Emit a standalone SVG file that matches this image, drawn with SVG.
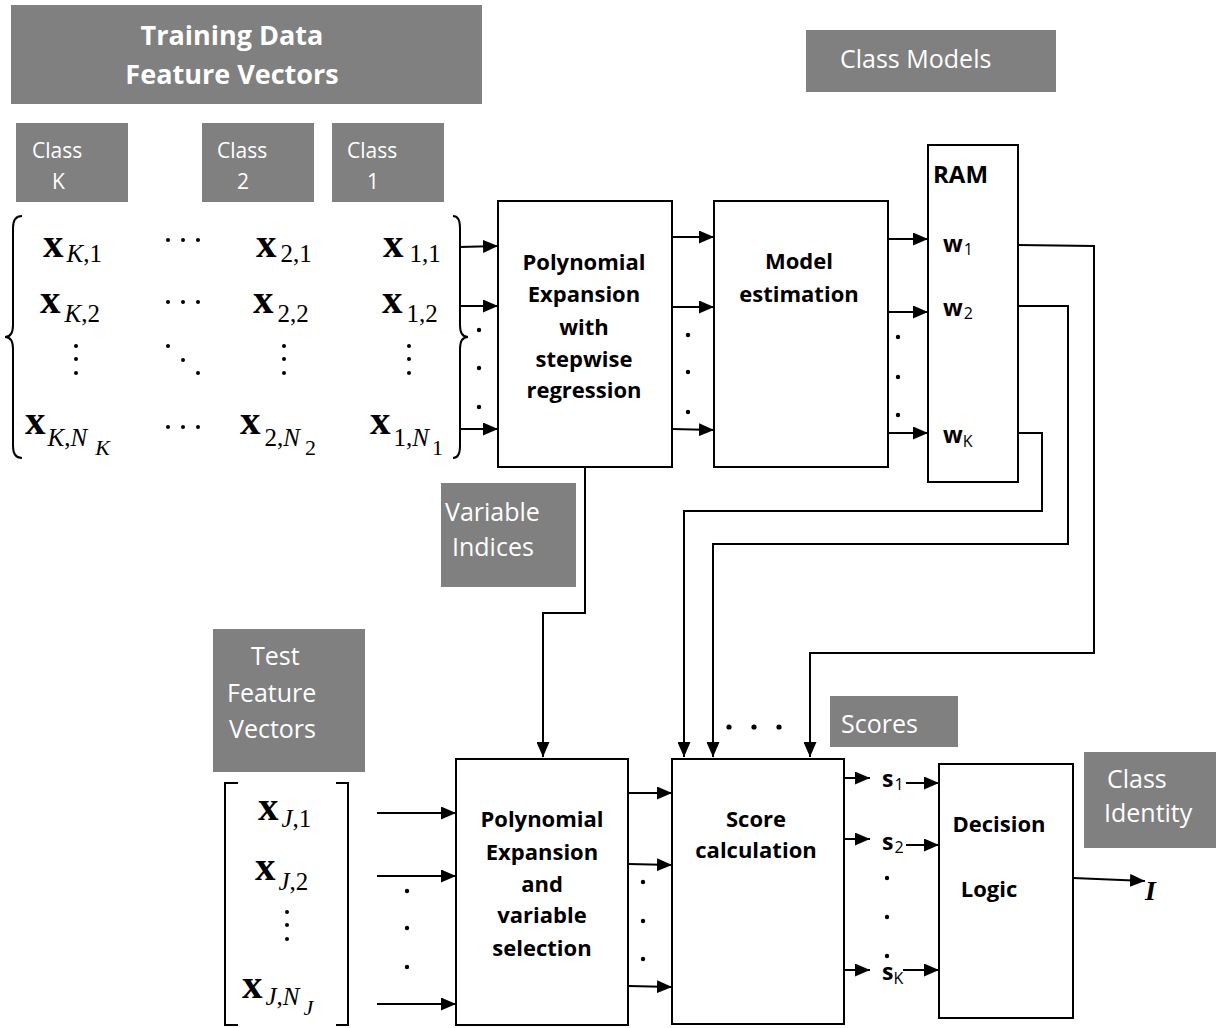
<svg xmlns="http://www.w3.org/2000/svg" width="1216" height="1028" viewBox="0 0 1216 1028">
<defs>
<style>
.g{fill:#808080}
.lt{font-family:"Open Sans","Noto Sans",sans-serif;fill:#fff;font-size:25px}
.lk{font-size:21px}
.tt{font-family:"Open Sans","Noto Sans",sans-serif;fill:#fff;font-size:27px;font-weight:bold;text-anchor:middle}
.bt{font-family:"Open Sans","Noto Sans",sans-serif;font-weight:bold;font-size:22px;fill:#000;text-anchor:middle}
.box{fill:#fff;stroke:#000;stroke-width:2}
.w{stroke:#000;stroke-width:2;fill:none}
.wa{stroke:#000;stroke-width:2;fill:none;marker-end:url(#ah)}
.m{font-family:"Liberation Serif","Times New Roman",serif;fill:#000}
.mb{font-weight:bold;font-size:41px}
.mi{font-size:25px}
.ms{font-size:22px}
.it{font-style:italic}
.sv{font-family:"Open Sans","Noto Sans",sans-serif;fill:#000;font-weight:bold;font-size:23px}
.ss{font-weight:normal;font-size:16px}
.d{fill:#000}
</style>
<marker id="ah" viewBox="0 0 15 13" refX="15" refY="6.5" markerWidth="15" markerHeight="13" markerUnits="userSpaceOnUse" orient="auto">
<path d="M0,0 L15,6.5 L0,13 z" fill="#000"/>
</marker>
</defs>
<rect width="1216" height="1028" fill="#fff"/>

<!-- gray labels -->
<g id="training-label">
<rect class="g" x="11" y="5" width="471" height="99"/>
<text class="tt" x="232" y="45">Training Data</text>
<text class="tt" x="232" y="84">Feature Vectors</text>
</g>
<g id="class-k-label">
<rect class="g" x="16" y="123" width="112" height="79"/>
<text class="lt lk" x="32" y="158">Class</text>
<text class="lt lk" x="52" y="189">K</text>
</g>
<g id="class-2-label">
<rect class="g" x="202" y="123" width="112" height="79"/>
<text class="lt lk" x="217" y="158">Class</text>
<text class="lt lk" x="237" y="189">2</text>
</g>
<g id="class-1-label">
<rect class="g" x="332" y="123" width="112" height="79"/>
<text class="lt lk" x="347" y="158">Class</text>
<text class="lt lk" x="367" y="189">1</text>
</g>
<g id="class-models-label">
<rect class="g" x="806" y="30" width="250" height="62"/>
<text class="lt" x="840" y="68">Class Models</text>
</g>
<g id="variable-indices-label">
<rect class="g" x="441" y="483" width="135" height="104"/>
<text class="lt" x="445" y="521">Variable</text>
<text class="lt" x="452" y="556">Indices</text>
</g>
<g id="test-label">
<rect class="g" x="213" y="629" width="152" height="143"/>
<text class="lt" x="251" y="665">Test</text>
<text class="lt" x="227" y="702">Feature</text>
<text class="lt" x="229" y="738">Vectors</text>
</g>
<g id="scores-label">
<rect class="g" x="830" y="696" width="128" height="51"/>
<text class="lt" x="841" y="733">Scores</text>
</g>
<g id="class-identity-label">
<rect class="g" x="1084" y="752" width="132" height="96"/>
<text class="lt" x="1107" y="788">Class</text>
<text class="lt" x="1104" y="822">Identity</text>
</g>

<!-- training matrix -->
<g id="training-matrix">
<path class="w" d="M22,216 Q13,216 13,228 L13,325 Q13,337 5,337 Q13,337 13,349 L13,446 Q13,458 22,458"/>
<path class="w" d="M453,216 Q460,216 460,228 L460,325 Q460,337 468,337 Q460,337 460,349 L460,446 Q460,458 453,458"/>
<text class="m"><tspan class="mb" x="43" y="257">x</tspan><tspan class="mi" dx="3" dy="5"><tspan class="it">K</tspan>,1</tspan></text>
<text class="m"><tspan class="mb" x="256" y="257">x</tspan><tspan class="mi" dx="4" dy="5">2,1</tspan></text>
<text class="m"><tspan class="mb" x="383" y="257">x</tspan><tspan class="mi" dx="6" dy="5">1,1</tspan></text>
<text class="m"><tspan class="mb" x="40" y="313">x</tspan><tspan class="mi" dx="4" dy="9"><tspan class="it">K</tspan>,2</tspan></text>
<text class="m"><tspan class="mb" x="253" y="313">x</tspan><tspan class="mi" dx="4" dy="9">2,2</tspan></text>
<text class="m"><tspan class="mb" x="382" y="313">x</tspan><tspan class="mi" dx="4" dy="9">1,2</tspan></text>
<text class="m"><tspan class="mb" x="25" y="434">x</tspan><tspan class="mi" dx="2" dy="12"><tspan class="it">K</tspan>,<tspan class="it">N</tspan></tspan><tspan class="ms it" dx="8" dy="9">K</tspan></text>
<text class="m"><tspan class="mb" x="240" y="434">x</tspan><tspan class="mi" dx="4" dy="12">2,<tspan class="it">N</tspan></tspan><tspan class="ms" dx="5" dy="9">2</tspan></text>
<text class="m"><tspan class="mb" x="370" y="434">x</tspan><tspan class="mi" dx="3" dy="12">1,<tspan class="it">N</tspan></tspan><tspan class="ms" dx="3" dy="9">1</tspan></text>
<g class="d">
<circle cx="168" cy="240" r="2"/><circle cx="183" cy="240" r="2"/><circle cx="198" cy="240" r="2"/>
<circle cx="168" cy="302" r="2"/><circle cx="183" cy="302" r="2"/><circle cx="198" cy="302" r="2"/>
<circle cx="168" cy="427" r="2"/><circle cx="183" cy="427" r="2"/><circle cx="198" cy="427" r="2"/>
<circle cx="76" cy="346" r="2"/><circle cx="76" cy="359" r="2"/><circle cx="76" cy="373" r="2"/>
<circle cx="168" cy="346" r="2"/><circle cx="183" cy="360" r="2"/><circle cx="198" cy="373" r="2"/>
<circle cx="284" cy="346" r="2"/><circle cx="284" cy="359" r="2"/><circle cx="284" cy="373" r="2"/>
<circle cx="409" cy="346" r="2"/><circle cx="409" cy="359" r="2"/><circle cx="409" cy="373" r="2"/>
</g>
</g>

<!-- test matrix -->
<g id="test-matrix">
<path class="w" d="M238,783 L225,783 L225,1025 L238,1025"/>
<path class="w" d="M336,783 L348,783 L348,1025 L336,1025"/>
<text class="m"><tspan class="mb" x="258" y="820">x</tspan><tspan class="mi" dx="3" dy="7"><tspan class="it">J</tspan>,1</tspan></text>
<text class="m"><tspan class="mb" x="255" y="880">x</tspan><tspan class="mi" dx="3" dy="10"><tspan class="it">J</tspan>,2</tspan></text>
<text class="m"><tspan class="mb" x="242" y="998">x</tspan><tspan class="mi" dx="3" dy="7"><tspan class="it">J</tspan>,<tspan class="it">N</tspan></tspan><tspan class="ms it" dx="4" dy="10">J</tspan></text>
<g class="d"><circle cx="287" cy="912" r="2"/><circle cx="287" cy="925" r="2"/><circle cx="287" cy="939" r="2"/></g>
</g>

<!-- process boxes -->
<g id="poly-train">
<rect class="box" x="498" y="201" width="174" height="266"/>
<text class="bt" x="584" y="270">Polynomial</text>
<text class="bt" x="584" y="302">Expansion</text>
<text class="bt" x="584" y="335">with</text>
<text class="bt" x="584" y="367">stepwise</text>
<text class="bt" x="584" y="398">regression</text>
</g>
<g id="model-estimation">
<rect class="box" x="714" y="201" width="174" height="266"/>
<text class="bt" x="799" y="269">Model</text>
<text class="bt" x="799" y="302">estimation</text>
</g>
<g id="ram">
<rect class="box" x="928" y="145" width="90" height="337"/>
<text class="sv" x="933" y="183" style="font-size:24px">RAM</text>
<text class="sv" x="943" y="252">w<tspan class="ss" dx="1" dy="3">1</tspan></text>
<text class="sv" x="943" y="316">w<tspan class="ss" dx="1" dy="3">2</tspan></text>
<text class="sv" x="943" y="443">w<tspan class="ss" dx="0" dy="4">K</tspan></text>
</g>
<g id="poly-test">
<rect class="box" x="456" y="759" width="172" height="266"/>
<text class="bt" x="542" y="827">Polynomial</text>
<text class="bt" x="542" y="860">Expansion</text>
<text class="bt" x="542" y="892">and</text>
<text class="bt" x="542" y="923">variable</text>
<text class="bt" x="542" y="956">selection</text>
</g>
<g id="score-calculation">
<rect class="box" x="672" y="759" width="172" height="265"/>
<text class="bt" x="756" y="827">Score</text>
<text class="bt" x="756" y="858">calculation</text>
</g>
<g id="decision-logic">
<rect class="box" x="939" y="764" width="134" height="254"/>
<text class="bt" x="999" y="832">Decision</text>
<text class="bt" x="989" y="897">Logic</text>
</g>
<g id="scores">
<text class="sv" x="882" y="787">s<tspan class="ss" dx="1" dy="3">1</tspan></text>
<text class="sv" x="882" y="850">s<tspan class="ss" dx="1" dy="3">2</tspan></text>
<text class="sv" x="882" y="980">s<tspan class="ss" dx="0" dy="4">K</tspan></text>
</g>
<g id="class-identity">
<text class="m" x="1145" y="900" style="font-style:italic;font-weight:bold;font-size:28px">I</text>
</g>

<!-- connectors -->
<g id="connectors">
<path class="wa" d="M460,247 L498,246"/>
<path class="wa" d="M460,306 L498,306"/>
<path class="wa" d="M460,429 L498,429"/>
<path class="wa" d="M672,237 L714,237"/>
<path class="wa" d="M672,307 L714,307"/>
<path class="wa" d="M672,429 L714,430"/>
<path class="wa" d="M888,239 L928,239"/>
<path class="wa" d="M888,312 L928,312"/>
<path class="wa" d="M888,433 L928,433"/>
<path class="wa" d="M585,467 L585,613 L543,613 L543,757"/>
<path class="wa" d="M1018,245 L1094,246 L1094,653 L810,653 L810,757"/>
<path class="wa" d="M1018,306 L1068,306 L1068,544 L713,544 L713,757"/>
<path class="wa" d="M1018,433 L1042,433 L1042,511 L684,511 L684,757"/>
<path class="wa" d="M377,813 L456,813"/>
<path class="wa" d="M377,876 L456,876"/>
<path class="wa" d="M377,1004 L456,1004"/>
<path class="wa" d="M629,793 L672,793"/>
<path class="wa" d="M629,864 L672,865"/>
<path class="wa" d="M629,986 L672,987"/>
<path class="wa" d="M845,778 L870,778"/>
<path class="wa" d="M845,839 L870,839"/>
<path class="wa" d="M845,970 L870,970"/>
<path class="wa" d="M906,783 L939,783"/>
<path class="wa" d="M906,845 L939,845"/>
<path class="wa" d="M903,970 L939,970"/>
<path class="wa" d="M1073,878 L1145,881"/>
<g class="d">
<circle cx="479" cy="330" r="2.2"/><circle cx="479" cy="368" r="2.2"/><circle cx="479" cy="407" r="2.2"/>
<circle cx="688" cy="335" r="2.2"/><circle cx="688" cy="372" r="2.2"/><circle cx="688" cy="412" r="2.2"/>
<circle cx="898" cy="337" r="2.2"/><circle cx="898" cy="377" r="2.2"/><circle cx="898" cy="415" r="2.2"/>
<circle cx="729" cy="727" r="2.6"/><circle cx="754" cy="727" r="2.6"/><circle cx="779" cy="727" r="2.6"/>
<circle cx="407" cy="891" r="2.2"/><circle cx="407" cy="928" r="2.2"/><circle cx="407" cy="967" r="2.2"/>
<circle cx="643" cy="882" r="2.2"/><circle cx="643" cy="921" r="2.2"/><circle cx="643" cy="959" r="2.2"/>
<circle cx="887" cy="878" r="2.2"/><circle cx="887" cy="917" r="2.2"/><circle cx="887" cy="956" r="2.2"/>
</g>
</g>
</svg>
